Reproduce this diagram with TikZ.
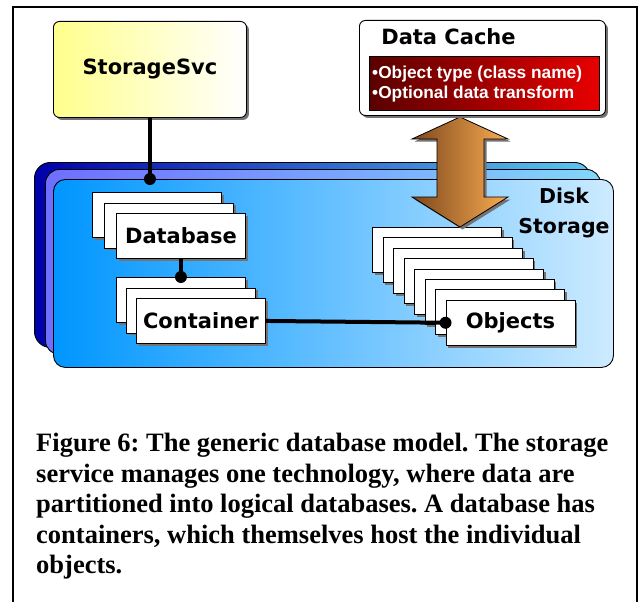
\documentclass[tikz,border=0pt]{standalone}
\usepackage{fontspec}
\setmainfont{Liberation Serif}
\newfontfamily\dvfont{DejaVu Sans}
\newfontfamily\lsfont{Liberation Sans}
\usetikzlibrary{shadows}
\definecolor{dkL}{RGB}{0,0,170}
\definecolor{dkR}{RGB}{90,200,240}
\definecolor{mdL}{RGB}{110,110,255}
\definecolor{mdR}{RGB}{130,215,250}
\definecolor{frL}{RGB}{0,150,255}
\definecolor{frR}{RGB}{205,235,255}
\definecolor{ssL}{RGB}{255,255,140}
\definecolor{rdL}{RGB}{90,0,0}
\definecolor{rdR}{RGB}{232,0,0}
\definecolor{arL}{RGB}{125,72,28}
\definecolor{arR}{RGB}{250,172,82}
\begin{document}
\frenchspacing
\begin{tikzpicture}[x=1pt,y=-1pt,
  shad/.style={drop shadow={shadow xshift=2.5pt,shadow yshift=-2.5pt,fill=black!55,opacity=1}},
  card/.style={draw=black,line width=0.9pt,fill=white,minimum width=129pt,minimum height=45pt,inner sep=0pt,anchor=north west,shad},
  lbl/.style={font=\dvfont\bfseries\fontsize{21}{24}\selectfont},
  layer/.style={draw=black,line width=0.9pt,anchor=north west,inner sep=0pt},
  conn/.style={line width=4pt},
  dot/.style={circle,fill=black,inner sep=0pt,minimum size=12pt}
]
\useasboundingbox (0,0) rectangle (640,602);
% outer frame
\draw[line width=1.5pt] (13,7) rectangle (637,640);

% disk storage layers
\node[layer,rounded corners=16pt,left color=dkL,right color=dkR,minimum width=556pt,minimum height=185pt] (disk1) at (34,162) {};
\node[layer,rounded corners=14pt,left color=mdL,right color=mdR,minimum width=555pt,minimum height=185pt] (disk2) at (45,169) {};
\node[layer,rounded corners=12pt,left color=frL,right color=frR,minimum width=560pt,minimum height=188pt] (disk3) at (53,179) {};
\node[lbl,align=center,font=\dvfont\bfseries\fontsize{20.5}{30}\selectfont] (disklbl) at (564,213) {Disk\\Storage};

% StorageSvc
\node[draw=black,line width=0.9pt,rounded corners=6pt,left color=ssL,right color=white,shad,
      minimum width=193pt,minimum height=96pt,anchor=north west,inner sep=0pt,lbl] (ss) at (53,21) {StorageSvc};

% Database stack
\node[card] (db1) at (92,192) {};
\node[card] (db2) at (104,202.5) {};
\node[card,lbl] (db3) at (116,213) {Database};

% Container stack
\node[card] (cn1) at (116,277) {};
\node[card] (cn2) at (126,287.5) {};
\node[card,lbl] (cn3) at (136,298) {Container};

% Objects stack
\foreach \i in {0,...,6} {
  \node[card] (ob\i) at (372+10.5*\i,227+10.4*\i) {};
}
\node[card,lbl] (ob7) at (445.5,299.8) {Objects};

% connectors
\coordinate (d1) at (ss.south |- disk3.north);
\draw[conn] (ss.south) -- (d1);
\node[dot] (dot1) at (d1) {};
\coordinate (d2) at (db3.south |- cn1.north);
\draw[conn] (db3.south) -- (d2);
\node[dot] (dot2) at (d2) {};
\draw[conn] (cn3.east) -- (ob7.west);
\node[dot] (dot3) at (ob7.west) {};

% double arrow
\path[draw=black,line width=0.8pt,left color=arL,right color=arR,shad]
  (460,117) -- (508,139) -- (484,139) -- (484,197) -- (508,197) -- (460,227)
  -- (412,197) -- (437,197) -- (437,139) -- (412,139) -- cycle;

% Data Cache
\node[draw=black,line width=0.9pt,rounded corners=6pt,fill=white,shad,
      minimum width=246pt,minimum height=95pt,anchor=north west,inner sep=0pt] (dc) at (359,20) {};
\node[lbl] (dctitle) at (448.5,37) {Data Cache};
\node[draw=black,line width=0.9pt,left color=rdL,right color=rdR,
      minimum width=230pt,minimum height=54pt,anchor=north west,inner sep=0pt] (red) at (369,56) {};
\node[anchor=west,align=left,inner sep=0pt,text=white,font=\lsfont\bfseries\fontsize{17.3}{20}\selectfont] (redtxt) at (372,84)
  {\textbullet Object type (class name)\\\textbullet Optional data transform};

% caption
\node[anchor=north west,align=left,inner sep=0pt,font=\bfseries\fontsize{26.5}{30.5}\selectfont] (cap) at (36,433)
  {Figure 6: The generic database model. The storage\\
   service manages one technology, where data are\\
   partitioned into logical databases. A database has\\
   containers, which themselves host the individual\\
   objects.};
\end{tikzpicture}
\end{document}
